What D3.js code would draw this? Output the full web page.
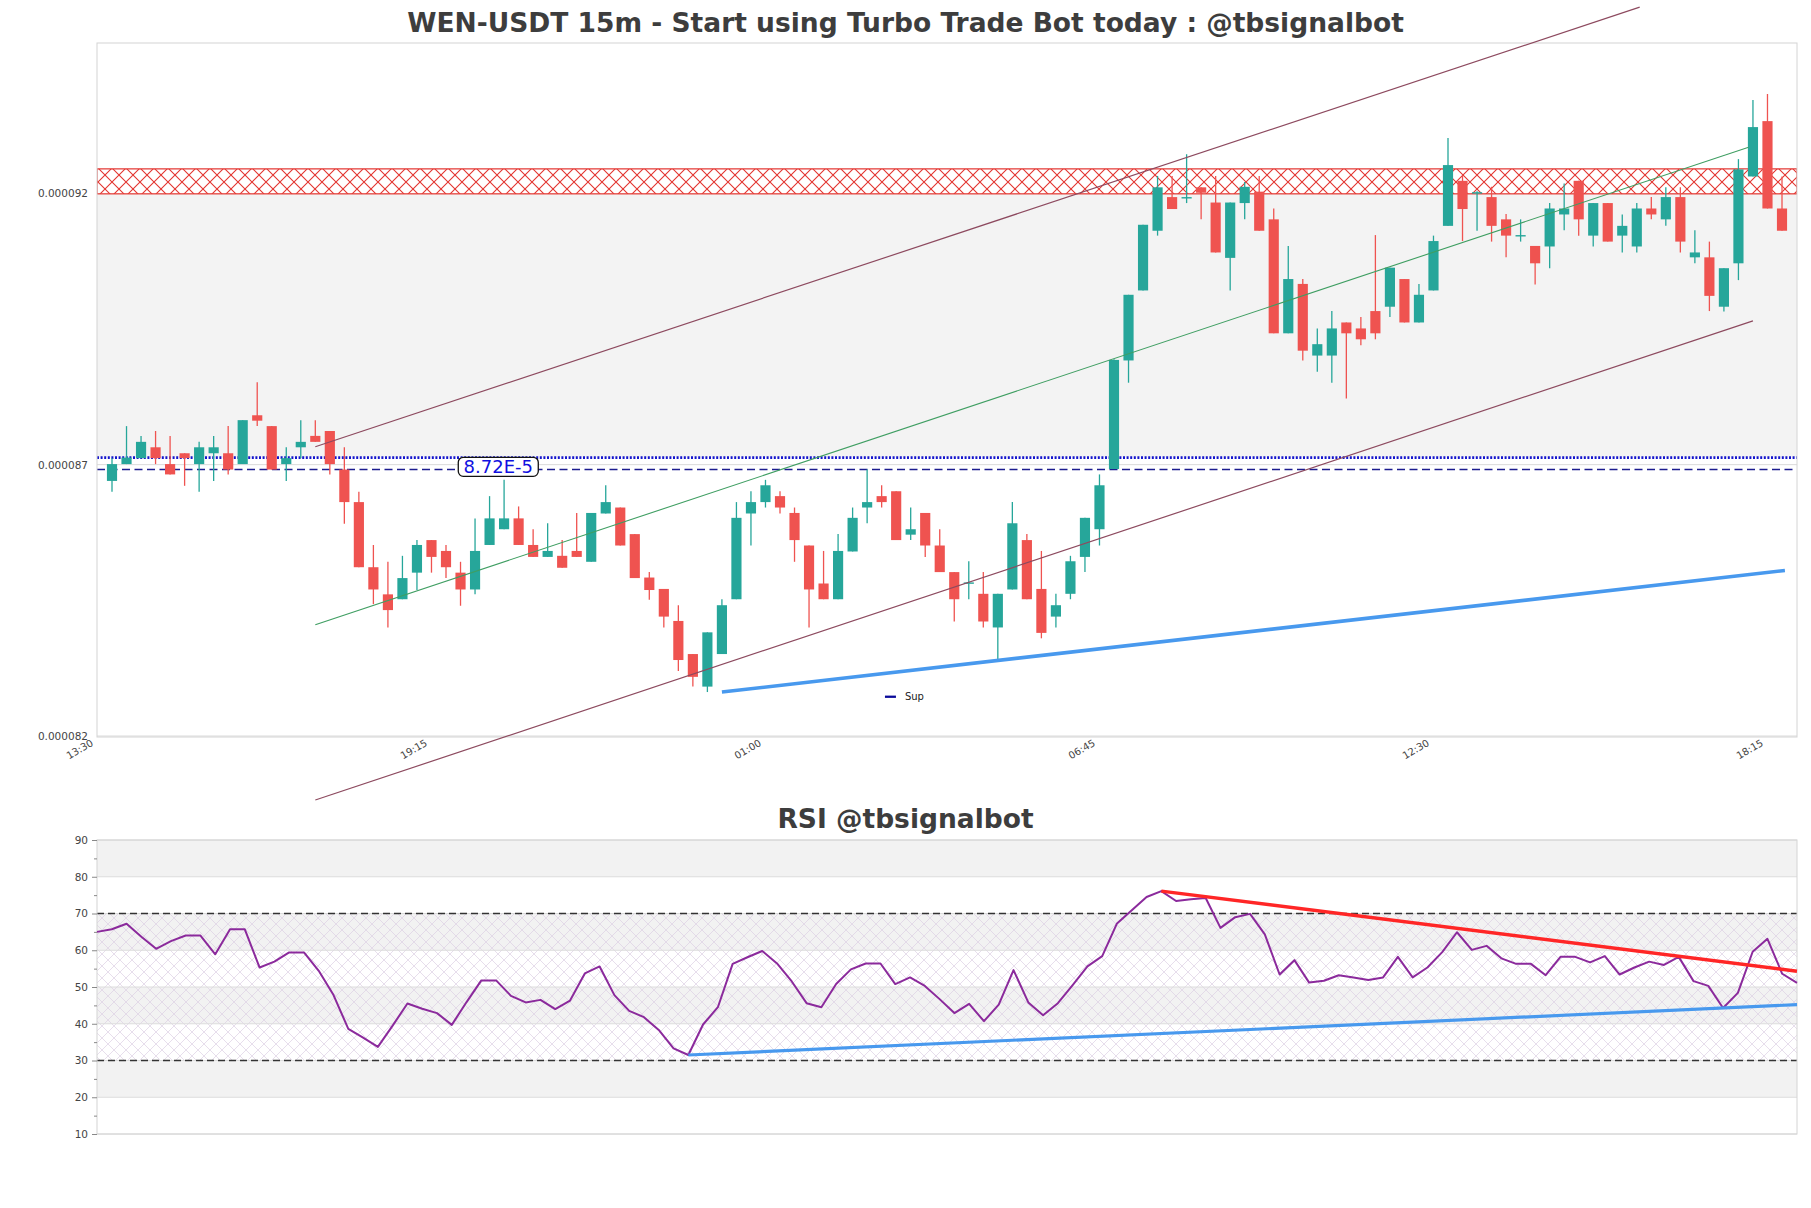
<!DOCTYPE html>
<html><head><meta charset="utf-8">
<script src="https://cdn.jsdelivr.net/npm/d3@7"></script>
<style>
body{margin:0;background:#fff;}
svg{display:block;}
text{font-family:"DejaVu Sans",sans-serif;}
</style>
</head><body>
<svg id="chart" width="1811" height="1208"></svg>
<script>
// ---------------- DATA ----------------
const UNIT = 1e-6; // price arrays are in micro-USDT
const timeLabels = ["13:30","19:15","01:00","06:45","12:30","18:15"];
const timeTickIndex = [0,23,46,69,92,115];
const priceTicks = [0.000082,0.000087,0.000092];
const rsiTicks = [10,20,30,40,50,60,70,80,90];
const rsiMinorTicks = [15,25,35,45,55,65,75,85];

const openP = [86.70,87.01,87.12,87.32,87.01,87.21,87.01,87.21,87.21,87.01,
87.91,87.71,87.01,87.32,87.53,87.62,86.91,86.31,85.11,84.61,
84.52,85.01,85.61,85.41,85.01,84.70,85.52,85.81,86.01,85.52,
85.30,85.32,85.41,85.21,86.10,86.21,85.72,84.92,84.71,84.12,
83.51,82.91,83.51,84.52,86.10,86.31,86.42,86.11,85.51,84.81,
84.52,85.40,86.21,86.42,86.51,85.71,86.11,85.51,85.02,84.81,
84.62,84.00,84.70,85.61,84.71,84.20,84.62,85.30,85.81,86.92,
88.92,90.21,91.31,91.93,91.91,92.11,91.83,90.81,91.82,92.03,
91.52,89.42,90.33,89.01,89.01,89.62,89.51,89.83,89.91,90.42,
89.62,90.21,91.40,92.23,92.00,91.93,91.52,91.21,91.03,91.02,
91.61,92.23,91.22,91.82,91.22,91.02,91.72,91.52,91.93,90.82,
90.82,89.91,90.71,92.31,93.33,91.72];
const highP = [87.12,87.71,87.53,87.62,87.53,87.21,87.42,87.53,87.71,87.82,
88.52,87.71,87.32,87.82,87.82,87.62,87.32,86.50,85.52,85.21,
85.32,85.61,85.61,85.52,85.21,86.01,86.42,86.72,86.23,85.81,
85.92,85.61,86.11,86.11,86.62,86.21,85.72,85.02,84.71,84.41,
83.51,83.91,84.52,86.31,86.51,86.72,86.51,86.21,85.51,85.41,
85.72,86.21,86.91,86.62,86.51,86.21,86.11,85.81,85.02,85.22,
85.02,84.62,86.31,85.72,85.41,84.62,85.32,86.02,86.82,88.94,
90.13,91.42,92.32,92.32,92.72,92.11,92.32,91.83,92.21,92.32,
91.72,91.03,90.42,89.51,89.83,89.62,89.72,91.23,90.63,90.42,
90.33,91.22,93.02,92.32,92.04,92.12,91.62,91.52,91.03,91.82,
92.18,92.23,91.82,91.82,91.61,91.82,91.93,92.11,92.11,91.32,
91.11,90.62,92.63,93.72,93.83,92.31];
const lowP = [86.50,87.01,87.12,87.01,86.82,86.61,86.50,86.70,86.82,87.01,
87.71,86.91,86.70,87.12,87.42,86.82,85.91,85.11,84.43,84.00,
84.52,84.69,85.01,84.91,84.40,84.61,85.52,85.81,85.52,85.30,
85.30,85.10,85.30,85.21,86.10,85.51,84.91,84.51,84.00,83.20,
82.91,82.81,83.51,84.52,85.51,86.21,86.10,85.21,84.00,84.52,
84.52,85.40,85.92,86.21,85.61,85.61,85.30,85.02,84.11,84.52,
84.00,83.40,84.70,84.52,83.80,84.00,84.52,85.02,85.51,86.92,
88.51,90.21,91.22,91.71,91.82,91.52,90.91,90.21,91.52,91.31,
89.42,89.42,88.92,88.71,88.51,88.22,89.20,89.31,89.72,89.62,
89.62,90.21,91.40,91.12,91.31,91.11,90.82,91.11,90.32,90.62,
91.32,91.22,91.02,91.11,90.91,90.91,91.52,91.40,90.91,90.71,
89.83,89.82,90.40,92.31,91.72,91.31];
const closeP = [87.01,87.13,87.42,87.12,86.82,87.12,87.32,87.32,86.91,87.82,
87.81,86.91,87.12,87.42,87.42,87.01,86.31,85.11,84.70,84.32,
84.91,85.52,85.30,85.11,84.70,85.41,86.01,86.01,85.52,85.30,
85.41,85.10,85.30,86.11,86.31,85.51,84.91,84.69,84.20,83.40,
83.09,83.91,84.41,86.02,86.31,86.62,86.21,85.61,84.70,84.52,
85.41,86.02,86.31,86.31,85.61,85.81,85.51,85.02,84.52,84.83,
84.11,84.62,85.92,84.52,83.90,84.41,85.22,86.02,86.62,88.93,
90.13,91.42,92.11,91.71,91.93,92.01,90.91,91.83,92.12,91.31,
89.42,90.42,89.10,89.22,89.51,89.42,89.31,89.42,90.63,89.62,
90.13,91.12,92.52,91.71,92.02,91.40,91.22,91.23,90.71,91.72,
91.72,91.52,91.82,91.11,91.40,91.72,91.61,91.93,91.11,90.91,
90.11,90.62,92.44,93.22,91.72,91.31];

const rsiValues = [65.0,65.7,67.2,63.7,60.4,62.5,64.0,64.0,58.9,65.7,
65.7,55.3,56.9,59.4,59.4,54.4,47.8,38.6,36.2,33.7,
39.5,45.5,44.1,42.9,39.7,45.9,51.8,51.8,47.6,45.8,
46.5,44.0,46.3,53.7,55.6,47.8,43.5,41.8,38.3,33.3,
31.5,39.8,44.5,56.3,58.1,59.8,56.4,51.5,45.6,44.5,
50.8,54.8,56.4,56.4,50.8,52.6,50.3,46.7,42.9,45.4,
40.7,45.2,54.6,45.8,42.3,45.6,50.5,55.6,58.4,67.3,
70.9,74.5,76.1,73.4,73.9,74.2,66.1,69.0,69.9,64.3,
53.4,57.3,51.2,51.7,53.2,52.6,51.9,52.6,58.2,52.6,
55.3,59.5,64.9,60.1,61.2,57.8,56.3,56.3,53.2,58.2,
58.2,56.7,58.4,53.4,55.3,56.9,56.0,58.2,51.6,50.3,
44.3,48.4,59.6,63.1,53.6,51.1];

// overlay lines: [candle index, price in micro-USDT]
const upperChannel = [[14,87.33],[105.2,95.43]];
const lowerChannel = [[14,80.82],[113,89.65]];
const midChannel   = [[14,84.05],[112.7,92.85]];
const supportLine  = [[42,82.81],[115.2,85.05]];
const resistanceZone = [91.99,92.45];
const dottedLevel = 87.13;
const dashedLevel = 86.91;
const levelLabel = {index:26.6, price:86.96, text:"8.72E-5"};
const rsiResistance = [[72,76.1],[115,54.3]];
const rsiSupport    = [[40,31.5],[115,45.2]];
const rsiBands = [[80,90],[60,70],[40,50],[20,30]];
const rsiZone = [30,70];
const rsiLevels = [30,70];

// ---------------- CHART ----------------
const svg = d3.select("#chart");
const W = 1811;
const M = {left:97, right:1797, top:43, bottom:737};
const R = {top:840, bottom:1134};

const candles = openP.map((o,i)=>({i, o:o*UNIT, h:highP[i]*UNIT, l:lowP[i]*UNIT, c:closeP[i]*UNIT}));
const n = candles.length;

const x = d3.scaleLinear().domain([0,n-1]).range([112,1782]);
const y = d3.scaleLinear().domain([0.000082,0.000092]).range([736,193.3]);
const xr = d3.scaleLinear().domain([0,n-1]).range([M.left,M.right]);
const yr = d3.scaleLinear().domain([10,90]).range([R.bottom,R.top]);

const defs = svg.append("defs");
const ph = defs.append("pattern").attr("id","redHatch").attr("patternUnits","userSpaceOnUse")
  .attr("width",14).attr("height",14);
ph.append("path").attr("d","M0,0L14,14M0,14L14,0").attr("stroke","#e3342f").attr("stroke-width",1.1);
const rh = defs.append("pattern").attr("id","rsiHatch").attr("patternUnits","userSpaceOnUse")
  .attr("width",12).attr("height",12);
rh.append("path").attr("d","M0,0L12,12M0,12L12,0").attr("stroke","#dcd0e4").attr("stroke-width",0.7);
defs.append("clipPath").attr("id","mainClip").append("rect")
  .attr("x",M.left).attr("y",M.top).attr("width",M.right-M.left).attr("height",M.bottom-M.top);

// titles
svg.append("text").attr("x",W/2).attr("y",32).attr("text-anchor","middle")
  .attr("font-size","26.5px").attr("font-weight","bold").attr("fill","#3d3d3d")
  .text("WEN-USDT 15m - Start using Turbo Trade Bot today : @tbsignalbot");
svg.append("text").attr("x",W/2).attr("y",828).attr("text-anchor","middle")
  .attr("font-size","26.5px").attr("font-weight","bold").attr("fill","#3d3d3d")
  .text("RSI @tbsignalbot");

// main plot background
svg.append("rect").attr("x",M.left).attr("y",M.top).attr("width",M.right-M.left).attr("height",M.bottom-M.top)
  .attr("fill","#fff");
const main = svg.append("g").attr("clip-path","url(#mainClip)");
main.append("rect").attr("x",M.left).attr("width",M.right-M.left)
  .attr("y",y(resistanceZone[0]*UNIT)).attr("height",y(dottedLevel*UNIT)-y(resistanceZone[0]*UNIT))
  .attr("fill","#f3f3f3");
// grid
main.selectAll("line.grid").data(priceTicks).enter().append("line")
  .attr("x1",M.left).attr("x2",M.right).attr("y1",d=>y(d)).attr("y2",d=>y(d))
  .attr("stroke","#dadada").attr("stroke-width",1);
// resistance zone
main.append("rect").attr("x",M.left).attr("width",M.right-M.left)
  .attr("y",y(resistanceZone[1]*UNIT)).attr("height",y(resistanceZone[0]*UNIT)-y(resistanceZone[1]*UNIT))
  .attr("fill","#fff");
main.append("rect").attr("x",M.left).attr("width",M.right-M.left)
  .attr("y",y(resistanceZone[1]*UNIT)).attr("height",y(resistanceZone[0]*UNIT)-y(resistanceZone[1]*UNIT))
  .attr("fill","url(#redHatch)").attr("stroke","#e3342f").attr("stroke-width",1.2);
// horizontal levels
main.append("line").attr("x1",M.left).attr("x2",M.right)
  .attr("y1",y(dottedLevel*UNIT)).attr("y2",y(dottedLevel*UNIT))
  .attr("stroke","#1414cc").attr("stroke-width",2.6).attr("stroke-dasharray","2,1.6");
main.append("line").attr("x1",M.left).attr("x2",M.right)
  .attr("y1",y(dashedLevel*UNIT)).attr("y2",y(dashedLevel*UNIT))
  .attr("stroke","#1c1c8f").attr("stroke-width",1.4).attr("stroke-dasharray","8,4.5");

// candles
const up = "#26a69a", dn = "#ef5350";
const bw = (x(1)-x(0))*0.7;
const cg = main.append("g");
cg.selectAll("line.wick").data(candles).enter().append("line")
  .attr("x1",d=>x(d.i)).attr("x2",d=>x(d.i)).attr("y1",d=>y(d.h)).attr("y2",d=>y(d.l))
  .attr("stroke",d=>d.c>=d.o?up:dn).attr("stroke-width",1.3);
cg.selectAll("rect.body").data(candles).enter().append("rect")
  .attr("x",d=>x(d.i)-bw/2).attr("width",bw)
  .attr("y",d=>y(Math.max(d.o,d.c))).attr("height",d=>Math.max(1.4,Math.abs(y(d.o)-y(d.c))))
  .attr("fill",d=>d.c>=d.o?up:dn);

// frame
svg.append("rect").attr("x",M.left).attr("y",M.top).attr("width",M.right-M.left).attr("height",M.bottom-M.top)
  .attr("fill","none").attr("stroke","#d4d4d4").attr("stroke-width",1);

// channel & trend lines (not clipped)
const lineMain = d3.line().x(d=>x(d[0])).y(d=>y(d[1]*UNIT));
svg.append("path").attr("d",lineMain(upperChannel)).attr("fill","none").attr("stroke","#8d4a5f").attr("stroke-width",1.2);
svg.append("path").attr("d",lineMain(lowerChannel)).attr("fill","none").attr("stroke","#8d4a5f").attr("stroke-width",1.2);
svg.append("path").attr("d",lineMain(midChannel)).attr("fill","none").attr("stroke","#3f9e62").attr("stroke-width",1.1);
svg.append("path").attr("d",lineMain(supportLine)).attr("fill","none").attr("stroke","#4899ee").attr("stroke-width",3.6);

// level label
const lx = x(levelLabel.index), ly = y(levelLabel.price*UNIT);
svg.append("rect").attr("x",lx-40).attr("y",ly-9.5).attr("width",80).attr("height",19).attr("rx",5)
  .attr("fill","#fff").attr("stroke","#111").attr("stroke-width",1.3);
svg.append("text").attr("x",lx).attr("y",ly).attr("dy","0.36em").attr("text-anchor","middle")
  .attr("font-size","18px").attr("fill","#1010e0").text(levelLabel.text);

// legend
const legX = M.left + 0.4635*(M.right-M.left), legY = M.top + 0.942*(M.bottom-M.top);
svg.append("line").attr("x1",legX).attr("x2",legX+11).attr("y1",legY).attr("y2",legY)
  .attr("stroke","#0a0a9a").attr("stroke-width",2.3);
svg.append("text").attr("x",legX+20).attr("y",legY).attr("dy","0.35em").attr("font-size","10px")
  .attr("fill","#222").text("Sup");

// main axes labels
const yAxis = d3.axisLeft(y).tickValues(priceTicks).tickSize(0).tickPadding(9).tickFormat(d=>d.toFixed(6));
const ya = svg.append("g").attr("transform",`translate(${M.left},0)`).call(yAxis);
ya.select(".domain").remove();
ya.selectAll("text").attr("font-size","10.5px").attr("fill","#444").attr("font-family","DejaVu Sans");

svg.selectAll("text.xt").data(timeTickIndex).enter().append("text")
  .attr("transform",(d)=>`translate(${x(d)-18},745) rotate(-30)`)
  .attr("text-anchor","end").attr("font-size","10px").attr("fill","#444")
  .text((d,k)=>timeLabels[k]);

// ---------------- RSI PANEL ----------------
svg.append("rect").attr("x",M.left).attr("y",R.top).attr("width",M.right-M.left).attr("height",R.bottom-R.top).attr("fill","#fff");
svg.selectAll("rect.band").data(rsiBands).enter().append("rect")
  .attr("x",M.left).attr("width",M.right-M.left)
  .attr("y",d=>yr(d[1])).attr("height",d=>yr(d[0])-yr(d[1])).attr("fill","#f2f2f2");
svg.append("rect").attr("x",M.left).attr("width",M.right-M.left)
  .attr("y",yr(rsiZone[1])).attr("height",yr(rsiZone[0])-yr(rsiZone[1])).attr("fill","url(#rsiHatch)");
svg.selectAll("line.rgrid").data(rsiTicks).enter().append("line")
  .attr("x1",M.left).attr("x2",M.right).attr("y1",d=>yr(d)).attr("y2",d=>yr(d))
  .attr("stroke","#dcdcdc").attr("stroke-width",1);
svg.selectAll("line.rlev").data(rsiLevels).enter().append("line")
  .attr("x1",M.left).attr("x2",M.right).attr("y1",d=>yr(d)).attr("y2",d=>yr(d))
  .attr("stroke","#333").attr("stroke-width",1.3).attr("stroke-dasharray","7,4");
svg.append("rect").attr("x",M.left).attr("y",R.top).attr("width",M.right-M.left).attr("height",R.bottom-R.top)
  .attr("fill","none").attr("stroke","#d4d4d4").attr("stroke-width",1);

const rsiLine = d3.line().x((d,i)=>xr(i)).y(d=>yr(d));
svg.append("path").attr("d",rsiLine(rsiValues)).attr("fill","none").attr("stroke","#8b2a9c")
  .attr("stroke-width",2).attr("stroke-linejoin","round");
const lineR = d3.line().x(d=>xr(d[0])).y(d=>yr(d[1]));
svg.append("path").attr("d",lineR(rsiSupport)).attr("fill","none").attr("stroke","#4899ee").attr("stroke-width",3.2);
svg.append("path").attr("d",lineR(rsiResistance)).attr("fill","none").attr("stroke","#ff2626").attr("stroke-width",3.4);

const ra = svg.append("g").attr("transform",`translate(${M.left},0)`)
  .call(d3.axisLeft(yr).tickValues(rsiTicks).tickSize(5).tickPadding(4));
ra.select(".domain").remove();
ra.selectAll("line").attr("stroke","#888");
ra.selectAll("text").attr("font-size","10.5px").attr("fill","#444").attr("font-family","DejaVu Sans");
const rm = svg.append("g").attr("transform",`translate(${M.left},0)`)
  .call(d3.axisLeft(yr).tickValues(rsiMinorTicks).tickSize(3).tickFormat(""));
rm.select(".domain").remove();
rm.selectAll("line").attr("stroke","#888");
</script>
</body></html>
